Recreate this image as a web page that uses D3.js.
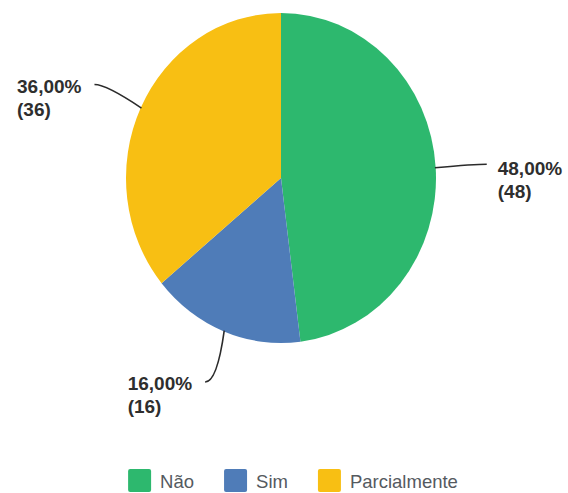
<!DOCTYPE html>
<html><head><meta charset="utf-8">
<script src="https://cdn.jsdelivr.net/npm/d3@7"></script>
<style>html,body{margin:0;padding:0;background:#fff}svg{display:block}</style>
</head><body>
<svg id="c" width="568" height="493"></svg>
<script>
const categories = ["Não", "Sim", "Parcialmente"];
const values = [48, 16, 36];
const percentLabels = ["48,00%", "16,00%", "36,00%"];
const colors = ["#2db86e", "#4f7cb8", "#f8bf13"];

const W = 568, H = 493;
const cx = 281, cy = 178, rx = 155, ry = 165;
const svg = d3.select("#c");

const pie = d3.pie().sort(null).value(d => d.v);
const data = pie(categories.map((c, i) => ({c, v: values[i], p: percentLabels[i], col: colors[i]})));
const arc = d3.arc().innerRadius(0).outerRadius(rx);

const g = svg.append("g").attr("transform", `translate(${cx},${cy}) scale(1,${ry/rx})`);
g.selectAll("path").data(data).join("path")
  .attr("d", arc).attr("fill", d => d.data.col);

function pt(a, k) { return [cx + rx * k * Math.sin(a), cy - ry * k * Math.cos(a)]; }

const lab = svg.append("g");
data.forEach(d => {
  const a = (d.startAngle + d.endAngle) / 2;
  const right = Math.sin(a) > 0;
  const s = pt(a, 0.995), e = pt(a, 1.33);
  const ctrl = [e[0] + (right ? -12 : 12), e[1]];
  lab.append("path")
    .attr("d", `M${s[0]},${s[1]} Q${ctrl[0]},${ctrl[1]} ${e[0]},${e[1]}`)
    .attr("fill", "none").attr("stroke", "#2b2b2b").attr("stroke-width", 1.6);
  const t = lab.append("text")
    .attr("font-family", "Liberation Sans, Arial, sans-serif")
    .attr("font-weight", "bold").attr("font-size", 19).attr("fill", "#2e2e2e");
  const l1 = t.append("tspan").text(d.data.p);
  const w = l1.node().getComputedTextLength();
  const x0 = right ? e[0] + 11 : e[0] - 13 - w;
  const y0 = e[1] + (right ? 11 : 8);
  l1.attr("x", x0).attr("y", y0);
  t.append("tspan").attr("x", x0).attr("y", y0 + 23).text(`(${d.data.v})`);
});

// legend
const leg = svg.append("g");
const sq = 23, gapT = 9, gapI = 30, fs = 18.5;
let items = [];
let x = 0;
categories.forEach((c, i) => {
  const it = leg.append("g");
  it.append("rect").attr("width", sq).attr("height", sq).attr("rx", 2).attr("y", 0).attr("fill", colors[i]);
  const t = it.append("text").attr("x", sq + gapT).attr("y", 19)
    .attr("font-family", "Liberation Sans, Arial, sans-serif").attr("font-size", fs).attr("fill", "#555a5f").text(c);
  const tw = t.node().getComputedTextLength();
  it.attr("data-x", x);
  items.push({it, x});
  x += sq + gapT + tw + gapI;
});
const total = x - gapI;
const lx0 = 293 - total / 2;
items.forEach(o => o.it.attr("transform", `translate(${lx0 + o.x},469)`));
</script>
</body></html>
